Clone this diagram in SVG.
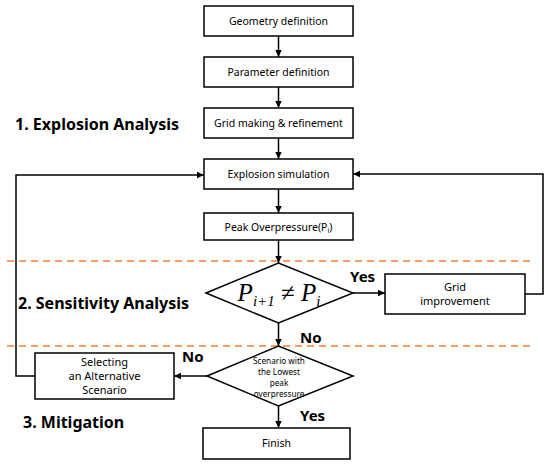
<svg xmlns="http://www.w3.org/2000/svg" width="550" height="465" viewBox="0 0 550 465">
<defs>
<marker id="ah" markerWidth="8" markerHeight="8" refX="7" refY="4" orient="auto" markerUnits="userSpaceOnUse">
<path d="M0,0.8 L7,4 L0,7.2 Z" fill="#000"/>
</marker>
<style>
.box{fill:#fff;stroke:#000;stroke-width:1.5}
.t{font-family:"Noto Sans","DejaVu Sans",sans-serif;font-size:10.5px;fill:#000;text-anchor:middle}
.t2{font-family:"Noto Sans","DejaVu Sans",sans-serif;font-size:11px;fill:#000;text-anchor:middle}
.s{font-family:"Noto Sans","DejaVu Sans",sans-serif;font-size:8.2px;fill:#000;text-anchor:middle}
.lab{font-family:"Noto Sans","DejaVu Sans",sans-serif;font-size:16px;font-weight:bold;fill:#000}
.yn{font-family:"Noto Sans","DejaVu Sans",sans-serif;font-size:15px;font-weight:bold;fill:#000}
.c{fill:none;stroke:#000;stroke-width:1.5}
.dash{stroke:#ED7D31;stroke-width:1.5;stroke-dasharray:7,5;fill:none}
</style>
</defs>
<rect width="550" height="465" fill="#fff"/>
<g id="separators">
<line class="dash" x1="7" y1="261" x2="535" y2="261"/>
<line class="dash" x1="7" y1="346" x2="535" y2="346"/>
</g>
<g id="labels">
<text class="lab" x="15" y="130">1. Explosion Analysis</text>
<text class="lab" x="18" y="309">2. Sensitivity Analysis</text>
<text class="lab" x="23" y="428">3. Mitigation</text>
<text class="yn" x="350" y="282">Yes</text>
<text class="yn" x="300" y="343">No</text>
<text class="yn" x="182" y="362">No</text>
<text class="yn" x="300" y="421">Yes</text>
</g>
<g id="connectors">
<line class="c" x1="278.5" y1="36" x2="278.5" y2="57" marker-end="url(#ah)"/>
<line class="c" x1="278.5" y1="87" x2="278.5" y2="108" marker-end="url(#ah)"/>
<line class="c" x1="278.5" y1="138" x2="278.5" y2="159" marker-end="url(#ah)"/>
<line class="c" x1="278.5" y1="189" x2="278.5" y2="213" marker-end="url(#ah)"/>
<line class="c" x1="278.5" y1="240" x2="278.5" y2="263" marker-end="url(#ah)"/>
<line class="c" x1="278.5" y1="323" x2="278.5" y2="346" marker-end="url(#ah)"/>
<line class="c" x1="278.5" y1="406" x2="278.5" y2="428" marker-end="url(#ah)"/>
<line class="c" x1="353" y1="293" x2="385" y2="293" marker-end="url(#ah)"/>
<polyline class="c" points="525,294 543,294 543,174 353,174" marker-end="url(#ah)"/>
<line class="c" x1="207" y1="376" x2="174" y2="376" marker-end="url(#ah)"/>
<polyline class="c" points="35,376 16,376 16,175 204,175" marker-end="url(#ah)"/>
</g>
<g id="geometry">
<rect class="box" x="204" y="6" width="149" height="30"/>
<text class="t" x="278.5" y="25">Geometry definition</text>
</g>
<g id="parameter">
<rect class="box" x="204" y="57" width="149" height="30"/>
<text class="t" x="278.5" y="76">Parameter definition</text>
</g>
<g id="grid">
<rect class="box" x="204" y="108" width="149" height="30"/>
<text class="t" x="278.5" y="127">Grid making &amp; refinement</text>
</g>
<g id="explosion">
<rect class="box" x="204" y="159" width="149" height="30"/>
<text class="t" x="278.5" y="178">Explosion simulation</text>
</g>
<g id="peak">
<rect class="box" x="204" y="213" width="149" height="27"/>
<text class="t" x="278.5" y="231">Peak Overpressure(P<tspan font-size="7px" dy="2">i</tspan><tspan dy="-2">)</tspan></text>
</g>
<g id="check">
<polygon class="box" points="206,293 278.5,263 353,293 278.5,323"/>
<text x="279" y="301" text-anchor="middle" font-family="'Liberation Serif',serif" font-style="italic" font-size="25px">P<tspan font-size="15px" dy="5">i+1</tspan><tspan dy="-5" font-style="normal"> ≠ </tspan>P<tspan font-size="15px" dy="5">i</tspan></text>
</g>
<g id="gridimp">
<rect class="box" x="385" y="274" width="140" height="40"/>
<text class="t2" x="455" y="291">Grid</text>
<text class="t2" x="455" y="305">improvement</text>
</g>
<g id="scenario">
<polygon class="box" points="207,376 278.5,346 353,376 278.5,406"/>
<text class="s" x="279" y="363.5">Scenario with</text>
<text class="s" x="279" y="374.5">the Lowest</text>
<text class="s" x="279" y="385.5">peak</text>
<text class="s" x="279" y="396.5">overpressure</text>
</g>
<g id="alternative">
<rect class="box" x="35" y="353" width="139" height="46"/>
<text class="t2" x="104.5" y="366">Selecting</text>
<text class="t2" x="104.5" y="380">an Alternative</text>
<text class="t2" x="104.5" y="394">Scenario</text>
</g>
<g id="finish">
<rect class="box" x="203" y="428" width="147" height="31"/>
<text class="t" x="276.5" y="447">Finish</text>
</g>
</svg>
